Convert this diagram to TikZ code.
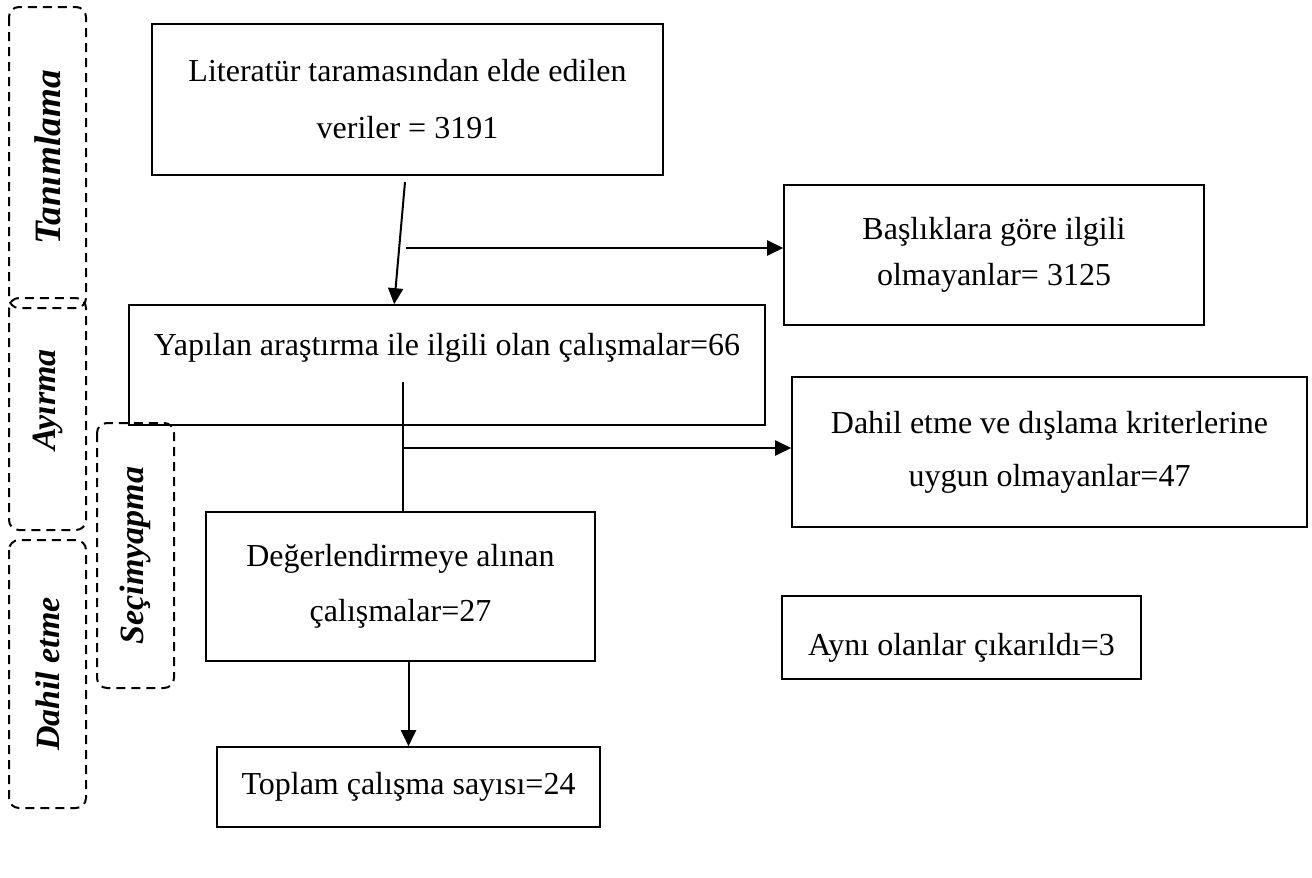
\documentclass[tikz,border=0pt]{standalone}
\usepackage{fontspec}
\setmainfont{Liberation Serif}
\usetikzlibrary{arrows.meta,positioning}

\tikzset{
  box/.style={draw, line width=0.8pt, align=center, inner sep=0pt,
    font=\fontsize{16}{27}\selectfont},
  phase/.style={draw, line width=1pt, dash pattern=on 4.5pt off 3pt,
    rounded corners=5pt, rotate=90, inner sep=0pt, minimum height=38.5pt,
    font=\fontsize{17}{20}\selectfont\bfseries\itshape},
  arr/.style={-{Triangle[length=8pt,width=7.5pt]}, line width=1pt},
  link/.style={line width=1pt}
}

\begin{document}
\begin{tikzpicture}[x=0.5pt, y=-0.5pt]
\useasboundingbox (0,0) rectangle (1312,878);
% phases
\node[phase, minimum width=150.5pt, font=\fontsize{18.6}{22}\selectfont\bfseries\itshape] (tan) at (47.5,157.5) {Tanımlama};
\node[phase, minimum width=116pt] (ayr) at (47.5,414) {\hspace{14pt}Ayırma};
\node[phase, minimum width=134pt] (dah) at (47.5,674) {Dahil etme};
\node[phase, minimum width=132.5pt] (sec) at (135.5,555.5) {Seçimyapma};
% boxes
\node[box, minimum width=255.5pt, minimum height=75.5pt] (lit) at (407.5,99.5)
  {Literatür taramasından elde edilen\\[1.5pt] veriler = 3191};
\node[box, minimum width=210pt, minimum height=70pt] (bas) at (994,255)
  {Başlıklara göre ilgili\\[-4pt] olmayanlar= 3125};
\node[box, minimum width=318pt, minimum height=60pt, text height=10pt, text depth=20pt] (yap) at (447,365)
  {Yapılan araştırma ile ilgili olan çalışmalar=66};
\node[box, minimum width=257.5pt, minimum height=75pt] (dis) at (1049.5,452)
  {Dahil etme ve dışlama kriterlerine\\[-0.5pt] uygun olmayanlar=47};
\node[box, minimum width=194.5pt, minimum height=74.5pt] (deg) at (400.5,586.5)
  {Değerlendirmeye alınan\\[0.5pt] çalışmalar=27};
\node[box, minimum width=191.5pt, minimum height=40pt] (tot) at (408.5,787)
  {Toplam çalışma sayısı=24};
\node[box, minimum width=179.5pt, minimum height=41.5pt, text height=20pt, text depth=2.5pt] (ayn) at (961.5,637.5)
  {Aynı olanlar çıkarıldı=3};
% connectors
\coordinate (p1) at (405,182);
\coordinate (p2) at (406,248);
\coordinate (q1) at (403,382);
\coordinate (q2) at (403,448);
\draw[arr] (p1) -- ([xshift=133pt]yap.north west);
\draw[arr] (p2) -- (p2 -| bas.west);
\draw[link] (q1) -- (q1 |- deg.north);
\draw[arr] (q2) -- (q2 -| dis.west);
\draw[arr] (deg.south -| tot.north) -- (tot.north);
\end{tikzpicture}
\end{document}
